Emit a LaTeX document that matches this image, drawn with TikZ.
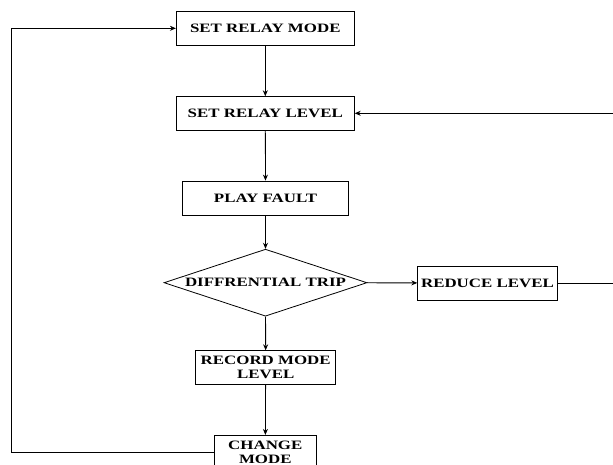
\documentclass[tikz,border=0pt]{standalone}
\usepackage{fontspec}
\setmainfont{Liberation Serif}[FakeStretch=1.32]
\usetikzlibrary{shapes.geometric,arrows.meta}
\begin{document}
\begin{tikzpicture}[x=1pt,y=-1pt,
  box/.style={draw,line width=0.8pt,rectangle,inner sep=0pt,align=center,
    font=\fontsize{12.8}{13.4}\selectfont\bfseries},
  decision/.style={draw,line width=0.8pt,diamond,aspect=3.03,inner sep=0pt,
    minimum width=203pt,minimum height=67pt,
    font=\fontsize{12.8}{13.4}\selectfont\bfseries},
  link/.style={line width=0.8pt,-{Stealth[length=6pt,width=5pt]}},
  plain/.style={line width=0.8pt}]
\useasboundingbox (0,0) rectangle (613,465);
\clip (0,0) rectangle (613,465);
\node[box,minimum width=178pt,minimum height=33.3pt] (mode) at (265.3,28.3) {SET RELAY MODE};
\node[box,minimum width=178pt,minimum height=33.3pt] (level) at (265.3,113.3) {SET RELAY LEVEL};
\node[box,minimum width=166.4pt,minimum height=34pt] (play) at (265.5,198) {PLAY FAULT};
\node[decision] (trip) at (265.5,282.7) {DIFFRENTIAL TRIP};
\node[box,minimum width=139.6pt,minimum height=34pt] (reduce) at (487.5,283) {REDUCE LEVEL};
\node[box,minimum width=140pt,minimum height=33.6pt] (record) at (265.7,367.5) {RECORD MODE\\LEVEL};
\node[box,minimum width=102.7pt,minimum height=34pt] (change) at (265.3,452.3) {CHANGE\\MODE};
\coordinate (lb) at (11.7,452.3);
\coordinate (lt) at (11.7,28.3);
\coordinate (rb) at (615,283);
\coordinate (rt) at (615,113.3);
\draw[link] (mode) -- (level);
\draw[link] (level) -- (play);
\draw[link] (play) -- (trip);
\draw[link] (trip) -- (reduce);
\draw[link] (trip) -- (record);
\draw[link] (record) -- (change);
\draw[link] (change.west) -- (lb) -- (lt) -- (mode.west);
\draw[link] (reduce.east) -- (rb) -- (rt) -- (level.east);
\end{tikzpicture}
\end{document}
